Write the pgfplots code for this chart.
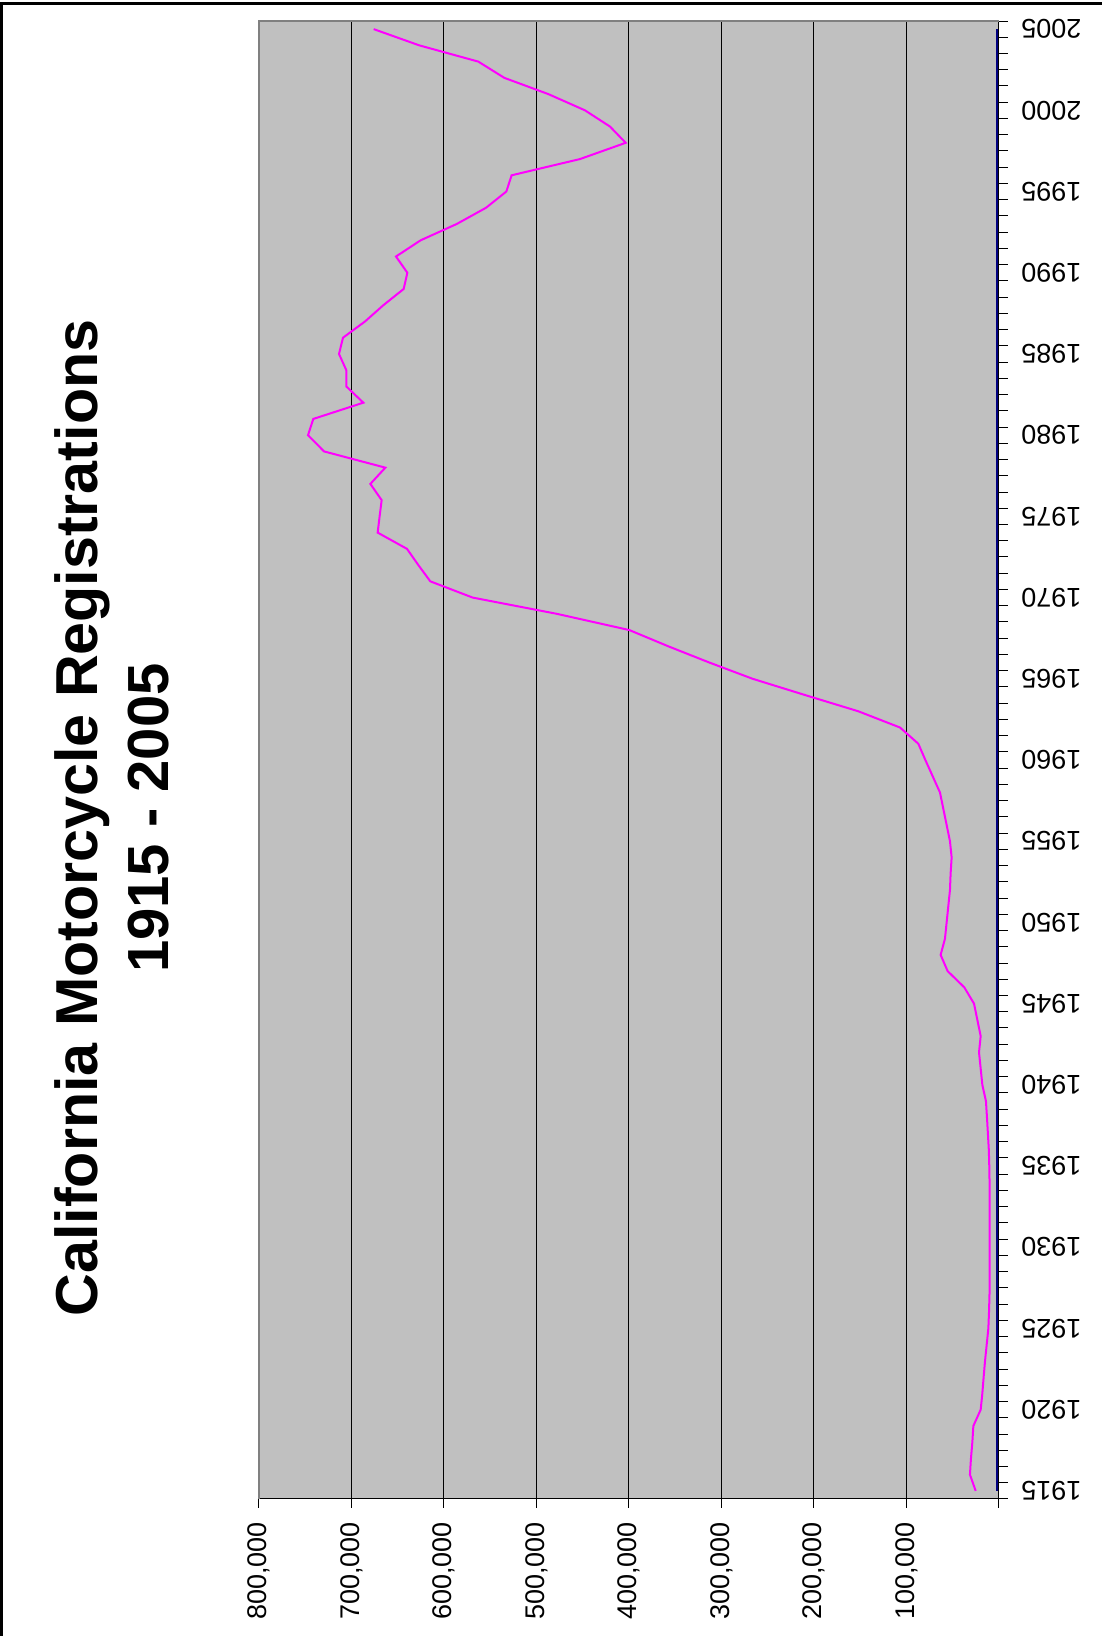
\documentclass[border=0pt]{standalone}
\usepackage{pgfplots}
\pgfplotsset{compat=1.18}
\usepackage{fontspec}
\setmainfont{Liberation Sans}
\definecolor{plotbg}{RGB}{192,192,192}
\definecolor{frameg}{RGB}{128,128,128}
\definecolor{mag}{RGB}{255,0,255}
\definecolor{navyc}{RGB}{0,0,128}
\pgfplotstableread{
year v
1915 25200
1916 31400
1917 30300
1918 28800
1919 27700
1920 19800
1921 18000
1922 16600
1923 15100
1924 13300
1925 11500
1926 10800
1927 10300
1928 10000
1929 10000
1930 10000
1931 10000
1932 10000
1933 10000
1934 10200
1935 10500
1936 11000
1937 12000
1938 13000
1939 14100
1940 18000
1941 19800
1942 21600
1943 19800
1944 23400
1945 27000
1946 37500
1947 55500
1948 63100
1949 58400
1950 56600
1951 54800
1952 53000
1953 52300
1954 51200
1955 53000
1956 56600
1957 60200
1958 63800
1959 71700
1960 79600
1961 87200
1962 107000
1963 152100
1964 209700
1965 266300
1966 313100
1967 357500
1968 399600
1969 478000
1970 569000
1971 614800
1972 627700
1973 640000
1974 671700
1975 669600
1976 667400
1977 679600
1978 663400
1979 729700
1980 747000
1981 741300
1982 687200
1983 705600
1984 705600
1985 713500
1986 709200
1987 685400
1988 665600
1989 643600
1990 639600
1991 651900
1992 625200
1993 586300
1994 554600
1995 532600
1996 526900
1997 453000
1998 403600
1999 420500
2000 447600
2001 487200
2002 534800
2003 562900
2004 626700
2005 676000
}\regdata
\begin{document}
\begin{tikzpicture}
\useasboundingbox (0,0) rectangle (551pt,818pt);
\fill[white] (0,0) rectangle (551pt,818pt);
\begin{axis}[
  scale only axis, width=370pt, height=739pt,
  at={(129.5pt,68.5pt)}, anchor=south west,
  x dir=reverse, xmin=0, xmax=800000, ymin=1914.5, ymax=2005.5,
  scaled x ticks=false, scaled y ticks=false,
  axis background/.style={fill=plotbg},
  axis line style={draw=none},
  xmajorgrids, grid style={black, line width=0.5pt},
  xtick={0,100000,...,800000},
  xticklabels={,{100,000},{200,000},{300,000},{400,000},{500,000},{600,000},{700,000},{800,000}},
  xtick pos=bottom, ytick pos=right,
  tick align=outside, major tick length=4.5pt,
  tick style={black, line width=0.5pt},
  xticklabel style={rotate=90, anchor=east, inner sep=0pt, font=\fontsize{13.5}{16}\selectfont},
  ytick={1914.5,1915.5,...,2005.5}, yticklabels={},
  extra y ticks={1915,1920,...,2005},
  extra y tick labels={1915,1920,1925,1930,1935,1940,1945,1950,1955,1960,1965,1970,1975,1980,1985,1990,1995,2000,2005},
  extra y tick style={grid=none, major tick length=0pt,
     yticklabel style={rotate=180, anchor=east, inner sep=0pt, font=\fontsize{13.5}{16}\selectfont}},
  xticklabel shift=7pt,
  yticklabel shift=11pt,
  clip=false,
]
\addplot[navyc, line width=1.5pt] coordinates {(1800,1915) (1800,2005)};
\addplot[mag, line width=1pt] table[x=v, y=year] {\regdata};
\draw[black, line width=0.5pt] (axis cs:800000,1914.5) -- (axis cs:0,1914.5) -- (axis cs:0,2005.5);
\draw[frameg, line width=1pt] (axis cs:800000,1914.5) -- (axis cs:800000,2005.5) -- (axis cs:0,2005.5);
\end{axis}
\draw[black, line width=1.35pt] (0.675pt,0) -- (0.675pt,816.3pt) -- (551pt,816.3pt);
\node[rotate=90, anchor=base, inner sep=0pt, font=\fontsize{29.6}{35}\selectfont\bfseries] at (48.5pt,409pt) {California Motorcycle Registrations};
\node[rotate=90, anchor=base, inner sep=0pt, font=\fontsize{29}{35}\selectfont\bfseries] at (84pt,409pt) {1915 - 2005};
\end{tikzpicture}
\end{document}
